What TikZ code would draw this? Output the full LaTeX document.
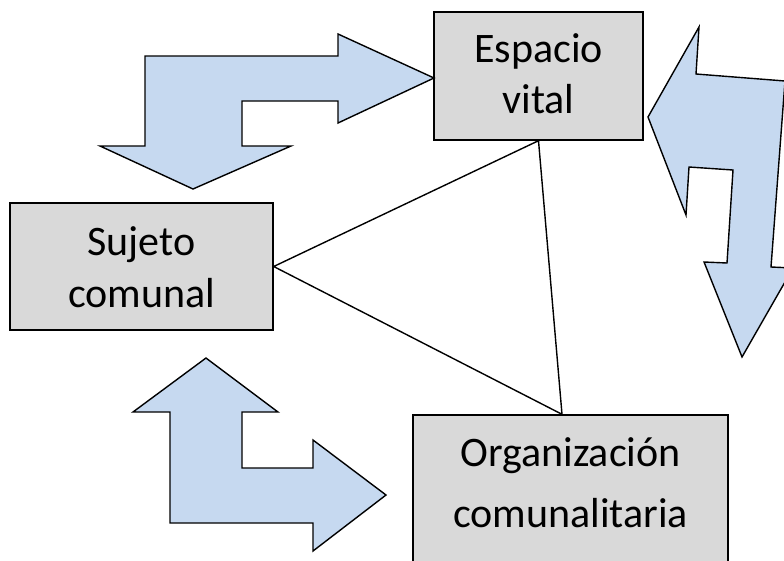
\documentclass[tikz,border=0pt]{standalone}
\usepackage{fontspec}
\setmainfont{Carlito}
\begin{document}
\begin{tikzpicture}[x=1pt,y=-1pt,
  box/.style={draw=black,line width=1.4pt,fill=boxgray,inner sep=0pt},
  lbl/.style={inner sep=0pt,anchor=base,font=\fontsize{42}{52}\selectfont},
  bigarrow/.style={draw=black,line width=1.4pt,fill=arrowblue,line join=miter},
  tri/.style={draw=black,line width=1.4pt}]
\definecolor{boxgray}{HTML}{D9D9D9}
\definecolor{arrowblue}{HTML}{C6D9F0}
\useasboundingbox (0,0) rectangle (784,560);
\clip (0,0) rectangle (784,560);
% boxes
\node[box,minimum width=209pt,minimum height=128pt] (esp) at (538.5,76) {};
\node[box,minimum width=263pt,minimum height=127pt] (suj) at (141.5,266.5) {};
\node[box,minimum width=315pt,minimum height=190pt] (org) at (570.5,510) {};
% labels
\node[lbl] (esp1) at (538.5,62) {Espacio};
\node[lbl] (esp2) at (538.5,113) {vital};
\node[lbl] (suj1) at (141.5,255) {Sujeto};
\node[lbl] (suj2) at (141.5,307) {comunal};
\node[lbl] (org1) at (570.5,466) {Organización};
\node[lbl] (org2) at (570.5,527) {comunalitaria};
% triangle
\draw[tri] (suj.east) -- (esp.south) -- ([xshift=-8.5pt]org.north) -- cycle;
% top arrow
\draw[bigarrow] (145,56) -- (338,56) -- (338,34) -- (434,78) -- (338,123) -- (338,101)
  -- (242,101) -- (242,146) -- (291,146) -- (193,189) -- (100,146) -- (145,146) -- cycle;
% right arrow
\draw[bigarrow] (648,117) -- (699,27) -- (696,74) -- (785,81) -- (771,267) -- (793,268)
  -- (742,357) -- (704,262) -- (727,263) -- (733,170) -- (689,167) -- (686,215) -- cycle;
% bottom arrow
\draw[bigarrow] (206,358) -- (278,412) -- (242,412) -- (242,468) -- (313,468) -- (313,440)
  -- (386,495) -- (313,551) -- (313,523) -- (170,523) -- (170,412) -- (133,412) -- cycle;
\end{tikzpicture}
\end{document}
